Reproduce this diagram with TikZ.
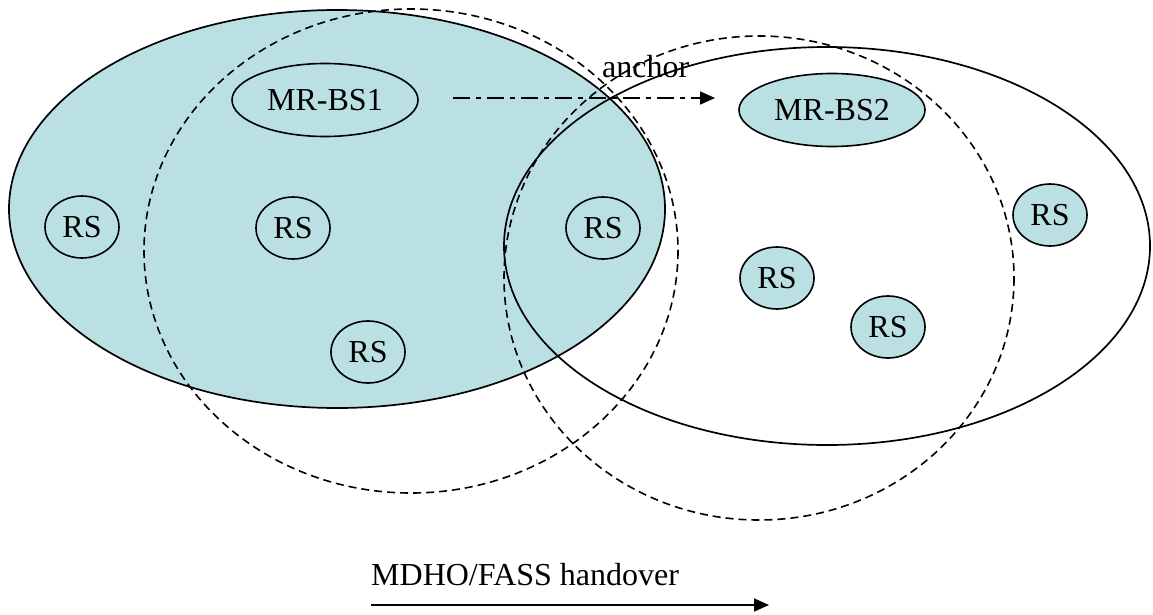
\documentclass[tikz,border=0pt]{standalone}
\usepackage{fontspec}
\setmainfont{Liberation Serif}
\usetikzlibrary{shapes.geometric,arrows.meta}
\definecolor{cellblue}{RGB}{187,224,227}
\begin{document}
\begin{tikzpicture}[x=1pt,y=-1pt,
  outl/.style={line width=1.7pt},
  dsh/.style={line width=1.6pt, dash pattern=on 8pt off 5pt},
  small/.style={ellipse, draw, line width=1.6pt, fill=cellblue, inner sep=0pt, font=\fontsize{32}{38}\selectfont},
  rs/.style={small, minimum width=74pt, minimum height=62pt},
  bs/.style={small, minimum width=186pt, minimum height=73pt},
  lbl/.style={font=\fontsize{32}{38}\selectfont, inner sep=0pt},
  ddarrow/.style={line width=1.7pt, dash pattern=on 17pt off 6pt on 5pt off 6pt, -{Triangle[length=15pt,width=13pt]}},
  harrow/.style={line width=1.7pt, -{Triangle[length=15pt,width=13pt]}}
]
\useasboundingbox (0,0) rectangle (1153,615);
\fill[white] (0,0) rectangle (1153,615);
% cells
\draw[outl, fill=cellblue] (337,209) ellipse [x radius=328, y radius=199];
\draw[outl] (827,246) ellipse [x radius=323, y radius=199];
\draw[dsh] (411,251) ellipse [x radius=267, y radius=242];
\draw[dsh] (759,278) ellipse [x radius=255, y radius=242];
% stations
\node[bs] (mrbs1) at (325,100) {MR-BS1};
\node[bs] (mrbs2) at (832,110) {MR-BS2};
\node[rs] (rs1) at (82,227) {RS};
\node[rs] (rs2) at (293,228) {RS};
\node[rs] (rs3) at (368,352) {RS};
\node[rs] (rs4) at (603,228) {RS};
\node[rs] (rs5) at (1050,215) {RS};
\node[rs] (rs6) at (777,278) {RS};
\node[rs] (rs7) at (888,327) {RS};
% anchor arrow
\coordinate (a1) at (453,98);
\coordinate (a2) at (715,98);
\draw[ddarrow] (a1) -- (a2);
\node[lbl, anchor=base west] (anch) at (602,78) {anchor};
% handover
\node[lbl, anchor=base west] (ho) at (371,585) {MDHO/FASS handover};
\coordinate (h1) at (371,605);
\coordinate (h2) at (769,605);
\draw[harrow] (h1) -- (h2);
\end{tikzpicture}
\end{document}
